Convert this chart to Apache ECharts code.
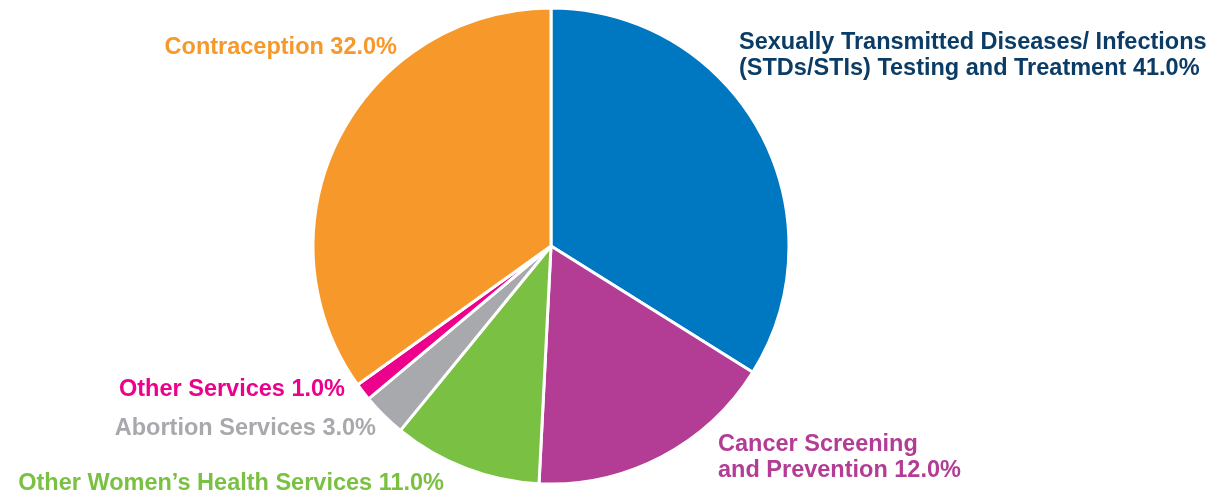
<!DOCTYPE html>
<html>
<head>
<meta charset="utf-8">
<script src="https://cdn.jsdelivr.net/npm/echarts@6/dist/echarts.min.js"></script>
<style>html,body{margin:0;padding:0;background:#fff;}#c{width:1222px;height:493px;}</style>
</head>
<body>
<div id="c"></div>
<script>
// Categories (labels as printed) and slice sizes as drawn
const categories = [
  'Sexually Transmitted Diseases/ Infections\n(STDs/STIs) Testing and Treatment',
  'Cancer Screening\nand Prevention',
  'Other Women\u2019s Health Services',
  'Abortion Services',
  'Other Services',
  'Contraception'
];
const printedPercents = ['41.0%', '12.0%', '11.0%', '3.0%', '1.0%', '32.0%'];
const sliceValues = [33.9, 16.9, 10.1, 3.0, 1.2, 34.9];

const sliceColors = ['#0077C1', '#B33C94', '#7AC143', '#A7A9AC', '#EC008C', '#F7992A'];
const labelColors = ['#0B3C66', '#B33C94', '#7AC143', '#A7A9AC', '#EC008C', '#F7992A'];
const labelPos = [
  {x: 739, y: 56, align: 'left'},
  {x: 718, y: 458, align: 'left'},
  {x: 444, y: 484, align: 'right'},
  {x: 376, y: 429, align: 'right'},
  {x: 345, y: 390, align: 'right'},
  {x: 397, y: 48, align: 'right'}
];

const chart = echarts.init(document.getElementById('c'), null, {renderer: 'canvas'});
chart.setOption({
  animation: false,
  series: [{
    type: 'pie',
    center: [551, 246],
    radius: [0, 238],
    startAngle: 90,
    clockwise: true,
    avoidLabelOverlap: false,
    itemStyle: {borderColor: '#fff', borderWidth: 3},
    labelLine: {show: false},
    label: {
      show: true,
      position: 'outside',
      fontFamily: '"Liberation Sans", Arial, sans-serif',
      fontWeight: 'bold',
      fontSize: 23.5,
      lineHeight: 26,
      formatter: p => categories[p.dataIndex] + ' ' + printedPercents[p.dataIndex]
    },
    labelLayout: p => ({
      x: labelPos[p.dataIndex].x,
      y: labelPos[p.dataIndex].y,
      align: labelPos[p.dataIndex].align,
      verticalAlign: 'middle'
    }),
    emphasis: {disabled: true},
    data: sliceValues.map((v, i) => ({
      value: v,
      name: categories[i],
      itemStyle: {color: sliceColors[i]},
      label: {color: labelColors[i], align: labelPos[i].align}
    }))
  }]
});
</script>
</body>
</html>
